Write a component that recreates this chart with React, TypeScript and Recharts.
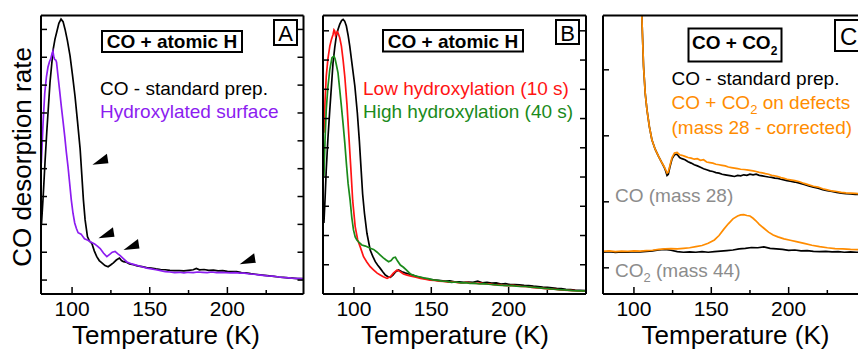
import React from 'react';
import { LineChart, Line, XAxis, YAxis, ReferenceDot } from 'recharts';

type Pt = [number, number];

const FONT = '"Liberation Sans", Arial, sans-serif';

// temperature ticks (K), bottom + top
const tempTicks = [100, 125, 150, 175, 200, 225];
// y tick marks (no labels), arbitrary units 0..10
const yTicksA = [0.5, 1.5, 2.5, 3.5, 4.5, 5.5, 6.5, 7.5, 8.5, 9.5];
const yTicksB = [1.05, 2.1, 3.15, 4.2, 5.25, 6.3, 7.35, 8.4, 9.45];
const yTicksC = [0.94, 3.31, 5.68, 8.05];

// panel A
const aStdCO: Pt[] = [
  [80.3, 2.5], [81.5, 3.6], [82.6, 4.75], [83.7, 5.8], [84.8, 6.75], [85.8, 7.6], [86.9, 8.25], [87.9, 8.8],
  [89, 9.15], [90.1, 9.4], [91.5, 9.72], [92.9, 9.87], [94.2, 9.78], [95.5, 9.5], [97, 9.1], [98.7, 8.55],
  [100.3, 7.85], [101.9, 7.1], [103.5, 6.2], [105.2, 5.2], [106.3, 4.25], [107.3, 3.38], [108.4, 2.66],
  [109.9, 2.06], [111.2, 1.9], [112.7, 1.82], [114.3, 1.55], [115.9, 1.34], [117.5, 1.2], [119.2, 1.12],
  [121.2, 1.02], [123.2, 0.98], [125, 1.05], [126.6, 1.12], [128.5, 1.22], [130.5, 1.29], [131.8, 1.2],
  [133.1, 1.16], [135, 1.14], [137, 1.08], [139.5, 1.05], [142, 1.01], [145, 0.98], [148, 0.95], [151, 0.93],
  [154, 0.9], [157, 0.88], [160, 0.87], [163, 0.85], [166, 0.84], [169, 0.84], [172, 0.83], [175, 0.85],
  [178, 0.87], [180, 0.92], [182, 0.87], [185, 0.88], [188, 0.85], [191, 0.86], [194, 0.83], [197, 0.84],
  [200, 0.81], [203, 0.8], [206, 0.8], [209, 0.77], [212, 0.76], [215, 0.73], [218, 0.71], [221, 0.69],
  [224, 0.67], [227, 0.65], [230, 0.63], [233, 0.61], [236, 0.6], [239, 0.58], [242, 0.57], [245, 0.55], [249, 0.55],
];
const aHydroxylated: Pt[] = [
  [80.2, 4.7], [81.3, 6.1], [82.4, 7.2], [83.5, 7.8], [84.5, 8.15], [85.5, 8.35], [86.3, 8.45], [87.2, 8.65],
  [87.7, 8.72], [88.3, 8.5], [88.8, 8.42], [89.5, 8.4], [90, 8.32], [91, 7.8], [92, 7.3], [93.1, 6.73],
  [94.2, 6.2], [95.3, 5.65], [96.3, 5.1], [97.4, 4.57], [98.5, 3.95], [99.5, 3.38], [100.6, 2.9], [101.7, 2.55],
  [102.8, 2.35], [103.9, 2.2], [105.8, 2.15], [108, 1.98], [110.2, 1.93], [112.3, 1.86], [114.5, 1.8],
  [116.3, 1.72], [118.1, 1.63], [120.2, 1.47], [122.4, 1.34], [124.2, 1.42], [125.9, 1.5], [127.7, 1.53],
  [129.3, 1.45], [131, 1.38], [133.2, 1.26], [135.3, 1.15], [138.5, 1.08], [141.7, 1.03], [145, 0.98],
  [148.2, 0.93], [151, 0.9], [154, 0.87], [157, 0.84], [160, 0.8], [163, 0.79], [166, 0.77], [169, 0.78],
  [172, 0.76], [175, 0.78], [178, 0.77], [181, 0.79], [184, 0.78], [187, 0.77], [190, 0.79], [193, 0.77],
  [196, 0.78], [199, 0.77], [202, 0.76], [205, 0.77], [208, 0.75], [211, 0.75], [214, 0.72], [217, 0.71],
  [220, 0.69], [223, 0.67], [226, 0.65], [229, 0.64], [232, 0.62], [235, 0.6], [238, 0.59], [241, 0.57],
  [244, 0.56], [247, 0.55], [249, 0.54],
];
// arrowhead tips in panel A
const arrowsA: Pt[] = [[113.1, 4.64], [117, 2.0], [133.1, 1.58], [207.9, 1.07]];

// panel B
const bStdCO: Pt[] = [
  [80.6, 2.55], [81.4, 3.5], [82.1, 4.46], [83.2, 5.6], [84.4, 6.62], [85.5, 7.5], [86.5, 8.31], [87.6, 8.85],
  [88.6, 9.26], [89.7, 9.5], [90.8, 9.68], [92, 9.82], [93, 9.86], [94, 9.8], [95.1, 9.62], [96.2, 9.3],
  [97.3, 8.9], [98.9, 8.2], [100.6, 7.46], [102.2, 6.5], [103.5, 5.5], [104.6, 4.5], [105.6, 3.6], [106.8, 2.9],
  [108.4, 2.18], [110.5, 1.58], [112.2, 1.35], [113.8, 1.16], [115.4, 1.03], [117, 0.92], [118.6, 0.8],
  [120.3, 0.68], [122, 0.62], [123.5, 0.6], [125.2, 0.68], [127, 0.8], [128.9, 0.86], [131, 0.8], [133, 0.76],
  [135.4, 0.72], [138, 0.68], [141, 0.62], [144, 0.58], [147, 0.54], [150, 0.52], [153, 0.5], [156, 0.48],
  [159, 0.46], [162, 0.47], [165, 0.44], [168, 0.44], [171, 0.42], [174, 0.43], [177, 0.42], [180, 0.46],
  [183, 0.4], [186, 0.42], [189, 0.39], [192, 0.4], [195, 0.36], [198, 0.37], [201, 0.34], [204, 0.34],
  [207, 0.33], [210, 0.31], [213, 0.3], [216, 0.28], [219, 0.27], [222, 0.25], [225, 0.24], [228, 0.22],
  [231, 0.2], [234, 0.19], [237, 0.17], [240, 0.16], [243, 0.14], [246, 0.13], [250, 0.12],
];
const bLowHydrox: Pt[] = [
  [80.6, 5.79], [81.3, 6.9], [82.1, 7.82], [83.2, 8.45], [84.4, 8.9], [85.5, 9.15], [86.5, 9.32], [87.1, 9.48],
  [87.6, 9.44], [88.1, 9.28], [88.6, 9.34], [89.2, 9.42], [89.7, 9.38], [90.8, 9.2], [91.9, 8.9], [93, 8.4],
  [94.1, 7.8], [95.5, 6.8], [96.8, 5.6], [98, 4.5], [99.2, 3.35], [100.8, 2.42], [102.4, 1.95], [104, 1.7],
  [106.2, 1.34], [108.3, 1.15], [110.5, 0.98], [112.8, 0.86], [115, 0.75], [117, 0.68], [119, 0.62],
  [121.4, 0.56], [123.5, 0.62], [125.5, 0.75], [127.9, 0.86], [130, 0.8], [132, 0.72], [134.4, 0.68],
  [137, 0.64], [140, 0.6], [143, 0.56], [146, 0.53], [149, 0.5], [152, 0.49], [155, 0.46], [158, 0.45],
  [161, 0.43], [164, 0.44], [167, 0.41], [170, 0.4], [173, 0.42], [176, 0.39], [179, 0.38], [182, 0.39],
  [185, 0.36], [188, 0.36], [191, 0.33], [194, 0.34], [197, 0.31], [200, 0.3], [203, 0.31], [206, 0.28],
  [209, 0.27], [212, 0.26], [215, 0.24], [218, 0.22], [221, 0.21], [224, 0.19], [227, 0.17], [230, 0.17],
  [233, 0.15], [236, 0.14], [239, 0.13], [242, 0.12], [245, 0.11], [250, 0.1],
];
const bHighHydrox: Pt[] = [
  [80.6, 4.22], [81.3, 5.5], [82.1, 6.62], [83.2, 7.45], [84.4, 8.06], [85.8, 8.48], [87.1, 8.54], [87.8, 8.45],
  [88.6, 8.24], [89.7, 7.94], [90.8, 7.35], [91.9, 6.74], [93, 6.1], [94.1, 5.42], [95.1, 4.7], [96.2, 3.98],
  [97.5, 3.38], [98.6, 2.75], [99.7, 2.3], [100.8, 2.05], [101.9, 1.94], [103.5, 1.84], [105.1, 1.76],
  [107.5, 1.72], [110.5, 1.64], [112.7, 1.6], [115, 1.5], [117, 1.4], [119, 1.3], [120.8, 1.22], [122.4, 1.16],
  [124, 1.2], [125.5, 1.3], [126.8, 1.32], [128, 1.2], [130, 1.04], [132, 0.96], [134, 0.86], [136.5, 0.72],
  [139, 0.66], [142, 0.62], [145, 0.58], [148, 0.55], [151, 0.51], [154, 0.49], [157, 0.46], [160, 0.45],
  [163, 0.42], [166, 0.43], [169, 0.4], [172, 0.41], [175, 0.38], [178, 0.39], [181, 0.36], [184, 0.37],
  [187, 0.35], [190, 0.34], [193, 0.32], [196, 0.31], [199, 0.3], [202, 0.3], [205, 0.28], [208, 0.27],
  [211, 0.27], [214, 0.25], [217, 0.24], [220, 0.22], [223, 0.2], [226, 0.19], [229, 0.17], [232, 0.16],
  [235, 0.15], [238, 0.14], [241, 0.12], [244, 0.11], [247, 0.11], [250, 0.1],
];

// panel C, mass 28 (upper) and mass 44 (lower)
const cStdMass28: Pt[] = [
  [104, 12], [105.1, 9.97], [105.7, 9.0], [106.2, 8.18], [107.3, 7.2], [108.4, 6.62], [110, 6.0], [111.6, 5.54],
  [113.7, 5.2], [115.9, 4.94], [118, 4.72], [119.5, 4.56], [120.5, 4.42], [121.4, 4.26], [122.2, 4.3],
  [123.2, 4.55], [124.6, 4.85], [126.2, 5.0], [127.9, 5.02], [129.5, 4.9], [131, 4.86], [133, 4.82],
  [135, 4.75], [137, 4.7], [139, 4.64], [141, 4.6], [143, 4.55], [145, 4.5], [147, 4.46], [149, 4.42],
  [151, 4.4], [153, 4.36], [155, 4.34], [157, 4.3], [159, 4.28], [161, 4.26], [163, 4.24], [165, 4.22],
  [167, 4.26], [169, 4.24], [171, 4.28], [173, 4.26], [175, 4.3], [177, 4.28], [179, 4.3], [181, 4.26],
  [183, 4.24], [185, 4.22], [187, 4.2], [189, 4.19], [191, 4.16], [193, 4.15], [195, 4.12], [197, 4.1],
  [199, 4.07], [201, 4.05], [204, 4.02], [207, 3.98], [210, 3.93], [213, 3.88], [216, 3.84], [219, 3.8],
  [222, 3.75], [225, 3.71], [228, 3.68], [231, 3.65], [234, 3.62], [237, 3.6], [240, 3.59], [243, 3.58],
  [246, 3.57], [250, 3.55],
];
const cDefMass28: Pt[] = [
  [104, 12], [105.1, 9.97], [105.7, 9.0], [106.2, 8.18], [107.3, 7.2], [108.4, 6.62], [110, 6.0], [111.6, 5.54],
  [113.7, 5.2], [115.9, 4.94], [118, 4.72], [119.5, 4.58], [120.5, 4.46], [121.4, 4.34], [122.2, 4.38],
  [123.2, 4.6], [124.6, 4.9], [126.2, 5.06], [127.9, 5.08], [129.5, 5.0], [131, 4.98], [133, 4.94],
  [135, 4.9], [137, 4.88], [139, 4.84], [141, 4.86], [143, 4.8], [145, 4.82], [147, 4.74], [149, 4.72],
  [151, 4.7], [153, 4.66], [155, 4.64], [157, 4.62], [159, 4.6], [161, 4.56], [163, 4.54], [165, 4.52],
  [167, 4.5], [169, 4.48], [171, 4.47], [173, 4.46], [175, 4.44], [177, 4.42], [179, 4.4], [181, 4.37],
  [183, 4.35], [185, 4.32], [187, 4.3], [189, 4.26], [191, 4.24], [193, 4.22], [195, 4.18], [197, 4.15],
  [199, 4.12], [201, 4.1], [204, 4.07], [207, 4.03], [210, 3.97], [213, 3.92], [216, 3.87], [219, 3.84],
  [222, 3.78], [225, 3.74], [228, 3.7], [231, 3.68], [234, 3.65], [237, 3.63], [240, 3.62], [243, 3.61],
  [246, 3.6], [250, 3.58],
];
const cStdMass44: Pt[] = [
  [80, 1.5], [84, 1.52], [88, 1.49], [92, 1.51], [96, 1.5], [100, 1.52], [104, 1.51], [108, 1.53], [112, 1.55],
  [116, 1.58], [120, 1.6], [124, 1.57], [128, 1.52], [132, 1.5], [136, 1.51], [140, 1.5], [144, 1.52],
  [148, 1.5], [152, 1.52], [156, 1.54], [160, 1.56], [164, 1.58], [168, 1.62], [172, 1.64], [176, 1.67],
  [180, 1.66], [184, 1.69], [188, 1.64], [192, 1.62], [196, 1.6], [200, 1.57], [204, 1.58], [208, 1.55],
  [212, 1.56], [216, 1.53], [220, 1.52], [224, 1.53], [228, 1.51], [232, 1.52], [236, 1.5], [240, 1.51],
  [244, 1.5], [250, 1.5],
];
const cDefMass44: Pt[] = [
  [80, 1.53], [84, 1.55], [88, 1.52], [92, 1.54], [96, 1.53], [100, 1.55], [104, 1.54], [108, 1.56],
  [112, 1.57], [116, 1.6], [120, 1.62], [124, 1.63], [128, 1.62], [132, 1.64], [136, 1.66], [140, 1.7],
  [144, 1.74], [148, 1.82], [152, 1.94], [155, 2.1], [158, 2.32], [161, 2.52], [164, 2.7], [167, 2.8],
  [169, 2.84], [171, 2.85], [173, 2.82], [175, 2.8], [177, 2.72], [179, 2.62], [181, 2.5], [184, 2.36],
  [187, 2.22], [190, 2.12], [193, 2.05], [197, 1.98], [201, 1.93], [205, 1.88], [210, 1.82], [215, 1.75],
  [220, 1.7], [225, 1.66], [230, 1.63], [235, 1.62], [240, 1.6], [245, 1.59], [250, 1.58],
];

const toPts = (arr: Pt[]) => arr.map(([t, v]) => ({ t, v }));

const EmptyTick = () => <g />;

const BottomTick = (props: any) => {
  const { x, y, payload } = props;
  const major = payload.value % 50 === 0;
  return (
    <g>
      <line x1={x} x2={x} y1={y} y2={y - (major ? 7 : 4)} stroke="#000" strokeWidth={1.5} />
      {major && (
        <text x={x} y={y + 22} textAnchor="middle" fontSize={21} fill="#000" fontFamily={FONT}>
          {payload.value}
        </text>
      )}
    </g>
  );
};

const Arrowhead = (props: any) => {
  const { cx, cy } = props;
  return <polygon points={`${cx},${cy} ${cx + 14.5},${cy - 11} ${cx + 16},${cy - 1.5}`} fill="#000" />;
};

const axes = (domain: [number, number], yTicks: number[]) => [
  <XAxis key="xb" xAxisId="b" type="number" dataKey="t" domain={domain} ticks={tempTicks} interval={0}
    allowDataOverflow height={55} tickSize={0} tickMargin={0} tickLine={false}
    axisLine={{ stroke: '#000', strokeWidth: 2 }} tick={BottomTick} />,
  <XAxis key="xt" xAxisId="t" type="number" orientation="top" mirror domain={domain} ticks={tempTicks}
    interval={0} allowDataOverflow tickSize={6} tickLine={{ stroke: '#000', strokeWidth: 1.5 }}
    axisLine={{ stroke: '#000', strokeWidth: 2 }} tick={EmptyTick} />,
  <YAxis key="yl" yAxisId="l" type="number" mirror domain={[0, 10]} ticks={yTicks} interval={0}
    allowDataOverflow tickSize={6} tickLine={{ stroke: '#000', strokeWidth: 1.5 }}
    axisLine={{ stroke: '#000', strokeWidth: 2 }} tick={EmptyTick} />,
  <YAxis key="yr" yAxisId="r" type="number" orientation="right" mirror domain={[0, 10]} ticks={yTicks}
    interval={0} allowDataOverflow tickSize={6} tickLine={{ stroke: '#000', strokeWidth: 1.5 }}
    axisLine={{ stroke: '#000', strokeWidth: 2 }} tick={EmptyTick} />,
];

const series = (key: string, data: Pt[], color: string) => (
  <Line key={key} xAxisId="b" yAxisId="l" data={toPts(data)} dataKey="v" type="linear" stroke={color}
    strokeWidth={1.7} dot={false} isAnimationActive={false} />
);

const PURPLE = '#8C1CF0';
const RED = '#FF1414';
const GREEN = '#1A8A1A';
const ORANGE = '#FF8C00';
const GREY = '#8C8C8C';

export default function App() {
  return (
    <div style={{ position: 'fixed', left: 0, top: 0, width: 858, height: 349, overflow: 'hidden',
      background: '#fff', fontFamily: FONT }}>
      {/* A */}
      <div style={{ position: 'absolute', left: 0, top: 0 }}>
        <LineChart width={313} height={349} margin={{ top: 15.5, right: 9.5, bottom: 0, left: 41 }}>
          {axes([80, 249], yTicksA)}
          {series('aStd', aStdCO, '#000')}
          {series('aHyd', aHydroxylated, PURPLE)}
          {arrowsA.map(([t, v], i) => (
            <ReferenceDot key={i} xAxisId="b" yAxisId="l" x={t} y={v} r={0} shape={Arrowhead} ifOverflow="visible" />
          ))}
          <text transform="rotate(-90)" x={-157} y={31} textAnchor="middle" fontSize={26} fill="#000">CO desorption rate</text>
          <text x={166} y={343.5} textAnchor="middle" fontSize={26} fill="#000">Temperature (K)</text>
          <rect x={102} y={31} width={140} height={21} fill="#fff" stroke="#000" strokeWidth={2} />
          <text x={172} y={48} textAnchor="middle" fontSize={19} fontWeight="bold" fill="#000">CO + atomic H</text>
          <rect x={274} y={20} width={23} height={25} fill="#fff" stroke="#000" strokeWidth={2} />
          <text x={285.5} y={41} textAnchor="middle" fontSize={22} fill="#000">A</text>
          <text x={100} y={95} fontSize={19} fill="#000">CO - standard prep.</text>
          <text x={100} y={118} fontSize={19} fill={PURPLE}>Hydroxylated surface</text>
        </LineChart>
      </div>
      {/* B */}
      <div style={{ position: 'absolute', left: 313, top: 0 }}>
        <LineChart width={283} height={349} margin={{ top: 15.5, right: 10, bottom: 0, left: 10 }}>
          {axes([80, 250], yTicksB)}
          {series('bStd', bStdCO, '#000')}
          {series('bLow', bLowHydrox, RED)}
          {series('bHigh', bHighHydrox, GREEN)}
          <text x={142} y={343.5} textAnchor="middle" fontSize={26} fill="#000">Temperature (K)</text>
          <rect x={70} y={30} width={140} height={21.5} fill="#fff" stroke="#000" strokeWidth={2} />
          <text x={140} y={47.5} textAnchor="middle" fontSize={19} fontWeight="bold" fill="#000">CO + atomic H</text>
          <rect x={243} y={20} width={23} height={24} fill="#fff" stroke="#000" strokeWidth={2} />
          <text x={254.5} y={40.5} textAnchor="middle" fontSize={22} fill="#000">B</text>
          <text x={50} y={95} fontSize={19} fill={RED}>Low hydroxylation (10 s)</text>
          <text x={50} y={118} fontSize={19} fill={GREEN}>High hydroxylation (40 s)</text>
        </LineChart>
      </div>
      {/* C */}
      <div style={{ position: 'absolute', left: 596, top: 0 }}>
        <LineChart width={300} height={349} margin={{ top: 15.5, right: 30, bottom: 0, left: 7 }}>
          {axes([80, 250], yTicksC)}
          {series('cStd28', cStdMass28, '#000')}
          {series('cDef28', cDefMass28, ORANGE)}
          {series('cStd44', cStdMass44, '#000')}
          {series('cDef44', cDefMass44, ORANGE)}
          <text x={139.5} y={343.5} textAnchor="middle" fontSize={26} fill="#000">Temperature (K)</text>
          <rect x={92.5} y={28.5} width={93} height={33} fill="#fff" stroke="#000" strokeWidth={2} />
          <text x={96} y={48.5} fontSize={19} fontWeight="bold" fill="#000">
            CO + CO<tspan dy={6} fontSize={12}>2</tspan>
          </text>
          <rect x={239} y={20} width={30} height={31} fill="#fff" stroke="#000" strokeWidth={2} />
          <text x={244} y={45} fontSize={24} fill="#000">C</text>
          <text x={75.5} y={85} fontSize={19} fill="#000">CO - standard prep.</text>
          <text x={75.5} y={108.5} fontSize={19} fill={ORANGE}>
            CO + CO<tspan dy={5} fontSize={13}>2</tspan><tspan dy={-5}> on defects</tspan>
          </text>
          <text x={75.5} y={133.5} fontSize={19} fill={ORANGE}>(mass 28 - corrected)</text>
          <text x={19} y={201.5} fontSize={19} fill={GREY}>CO (mass 28)</text>
          <text x={19} y={276.5} fontSize={19} fill={GREY}>
            CO<tspan dy={5} fontSize={13}>2</tspan><tspan dy={-5}> (mass 44)</tspan>
          </text>
        </LineChart>
      </div>
    </div>
  );
}
